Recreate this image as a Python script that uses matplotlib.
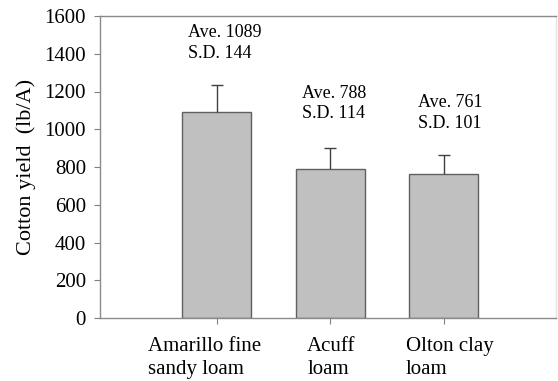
import matplotlib
matplotlib.use("Agg")
import matplotlib.pyplot as plt
import matplotlib.transforms as mtransforms
import numpy as np

categories = ["Amarillo fine\nsandy loam", "Acuff\nloam", "Olton clay\nloam"]
averages = [1089, 788, 761]
std_devs = [144, 114, 101]
annotations = ["Ave. 1089\nS.D. 144", "Ave. 788\nS.D. 114", "Ave. 761\nS.D. 101"]
yticks = [0, 200, 400, 600, 800, 1000, 1200, 1400, 1600]

plt.rcParams['font.family'] = ['Liberation Serif', 'DejaVu Serif']

fig = plt.figure(figsize=(5.58, 3.81), dpi=100)
ax = fig.add_axes([100/558, 1-318/381, 456/558, 302/381])

x = np.arange(len(categories))
ax.bar(x, averages, width=0.61, color='#c0c0c0', edgecolor='#606060', linewidth=1.0, zorder=2)
eb = ax.errorbar(x, averages, yerr=[np.zeros(len(std_devs)), std_devs], fmt='none',
                 ecolor='#404040', elinewidth=1.0, capsize=4, capthick=1.0, zorder=3)
# hide the lower caps (only the upward half of the error bar is shown)
eb[1][0].set_visible(False)

ax.set_xlim(-1.03, 2.99)
ax.set_ylim(0, 1600)
ax.set_yticks(yticks)
ax.set_yticklabels([str(v) for v in yticks], fontsize=15)
ax.set_xticks(x)
ax.set_xticklabels(categories, fontsize=15, ha='left', multialignment='left', linespacing=1.28)
ax.tick_params(axis='y', direction='out', length=4, color='#808080', pad=6)
ax.tick_params(axis='x', direction='out', length=4, color='#808080', pad=10)

label_offsets_px = [-69, -23, -38]
for lbl, dx in zip(ax.get_xticklabels(), label_offsets_px):
    lbl.set_transform(lbl.get_transform() + mtransforms.ScaledTranslation(dx / 100, 0, fig.dpi_scale_trans))

for s in ['left', 'bottom', 'top']:
    ax.spines[s].set_color('#8a8a8a')
    ax.spines[s].set_linewidth(1.0)
ax.spines['right'].set_color('#e4e4e4')
ax.spines['right'].set_linewidth(1.0)

ax.set_ylabel("Cotton yield  (lb/A)", fontsize=16, labelpad=6)

ann_x = [-0.25, 0.75, 1.77]
ann_y = [1457, 1136, 1086]
for xi, yi, t in zip(ann_x, ann_y, annotations):
    ax.text(xi, yi, t, fontsize=13, ha='left', va='center', linespacing=1.27)

fig.savefig("out.png", dpi=100)
